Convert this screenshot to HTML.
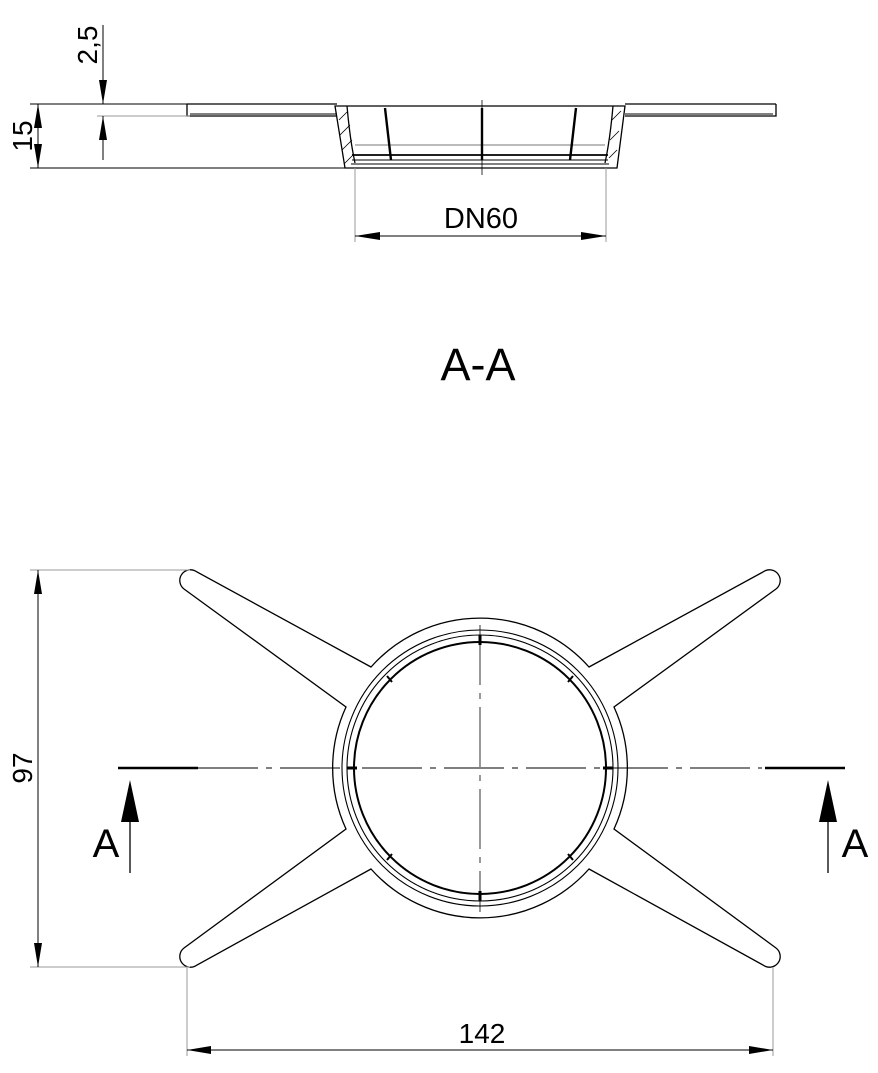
<!DOCTYPE html>
<html><head><style>
html,body{margin:0;padding:0;background:#fff;}
svg{display:block;}
text{font-family:"Liberation Sans",sans-serif;fill:#000;}
</style></head><body>
<svg width="878" height="1073" viewBox="0 0 878 1073" xmlns="http://www.w3.org/2000/svg">
<g fill="none" stroke="#000" stroke-width="1.3">
<!-- top view: flange -->
<path d="M187,104 H337 M625,104 H776 M187,104 V116 H337 M776,104 V116 H625"/>
<path d="M190,114 H337 M625,114 H773" stroke-width="1"/>
<!-- body -->
<path d="M335,106 H625 L617,168 H345 Z"/>
<path d="M347,106 Q350,140 355,163 M613,106 Q610,140 605,163"/>
<path d="M355,145 H605" stroke="#777" stroke-width="1"/>
<path d="M352,155 H608" stroke-width="1.8"/>
<path d="M352,160 H608 M351,164 H609" stroke-width="1"/>
<path d="M385,108 Q388,135 391,160 M482,108 V160 M576,108 Q573,135 570,160" stroke-width="2.4"/>
<path d="M339,120 L347,112 M340,135 L350,125 M342,150 L352,140 M344,164 L354,154 M612,120 L621,111 M610,140 L619,131 M609,158 L617,150" stroke-width="0.8"/>
<path d="M482,100 V175" stroke-width="0.8"/>
<!-- dims top -->
<path d="M30,104 H337 M30,168 H345" stroke-width="1"/>
<path d="M97,116 H190" stroke="#999" stroke-width="1"/>
<path d="M38,104 V168" stroke-width="1"/>
<path d="M103,25 V104 M103,116 V160" stroke-width="1"/>
<path d="M355,168 V242 M606,168 V242" stroke="#999" stroke-width="1"/>
<path d="M355,236 H606" stroke-width="1"/>
<!-- plan outline -->
<path d="M371,667 A146,146 0 0 1 589,667 L763,572 A10,10 0 0 1 776,589 L614,707 A146,146 0 0 1 614,829 L776,948 A10,10 0 0 1 763,965 L589,869 A146,146 0 0 1 371,869 L197,965 A10,10 0 0 1 184,948 L346,829 A146,146 0 0 1 346,707 L184,589 A10,10 0 0 1 197,572 Z"/>
<circle cx="480" cy="768" r="138" stroke-width="1.1"/>
<circle cx="480" cy="768" r="133" stroke-width="1.1"/>
<circle cx="480" cy="768" r="126" stroke-width="2"/>
<path d="M480,635 V645 M480,891 V901 M347,768 H357 M603,768 H613" stroke-width="3"/>
<path d="M387,676 L392,682 M573,676 L568,682 M387,860 L392,854 M573,860 L568,854" stroke-width="2"/>
<!-- center lines -->
<path d="M198,768 H762" stroke-width="1" stroke-dasharray="60,8,6,8"/>
<path d="M118,768 H198 M765,768 H845" stroke-width="2.6"/>
<path d="M480,625 V912" stroke-width="0.8" stroke-dasharray="60,8,6,8"/>
<!-- section arrows -->
<path d="M130,873 V815 M828,873 V815" stroke-width="1.3"/>
<!-- dims plan -->
<path d="M30,570 H190 M30,967 H190" stroke="#999" stroke-width="1"/>
<path d="M38,570 V967" stroke-width="1"/>
<path d="M187,967 V1056 M773,967 V1056" stroke="#999" stroke-width="1"/>
<path d="M187,1050 H773" stroke-width="1"/>
</g>
<g fill="#000">
<polygon points="38,104 34,128 42,128"/>
<polygon points="38,168 34,144 42,144"/>
<polygon points="103,104 99,80 107,80"/>
<polygon points="103,116 99,140 107,140"/>
<polygon points="355,236 380,232 380,240"/>
<polygon points="606,236 581,232 581,240"/>
<polygon points="38,570 34,594 42,594"/>
<polygon points="38,967 34,943 42,943"/>
<polygon points="187,1050 211,1046 211,1054"/>
<polygon points="773,1050 749,1046 749,1054"/>
<polygon points="130,780 121,822 139,822"/>
<polygon points="828,780 819,822 837,822"/>
</g>
<text x="481" y="228" font-size="29" text-anchor="middle">DN60</text>
<text x="478" y="380" font-size="45" text-anchor="middle">A-A</text>
<text x="106" y="857" font-size="40" text-anchor="middle">A</text>
<text x="855" y="857" font-size="40" text-anchor="middle">A</text>
<text x="482" y="1043" font-size="28" text-anchor="middle">142</text>
<text transform="translate(32,768) rotate(-90)" font-size="28" text-anchor="middle">97</text>
<text transform="translate(32,136) rotate(-90)" font-size="28" text-anchor="middle">15</text>
<text transform="translate(97,45) rotate(-90)" font-size="28" text-anchor="middle">2,5</text>
</svg>
</body></html>
